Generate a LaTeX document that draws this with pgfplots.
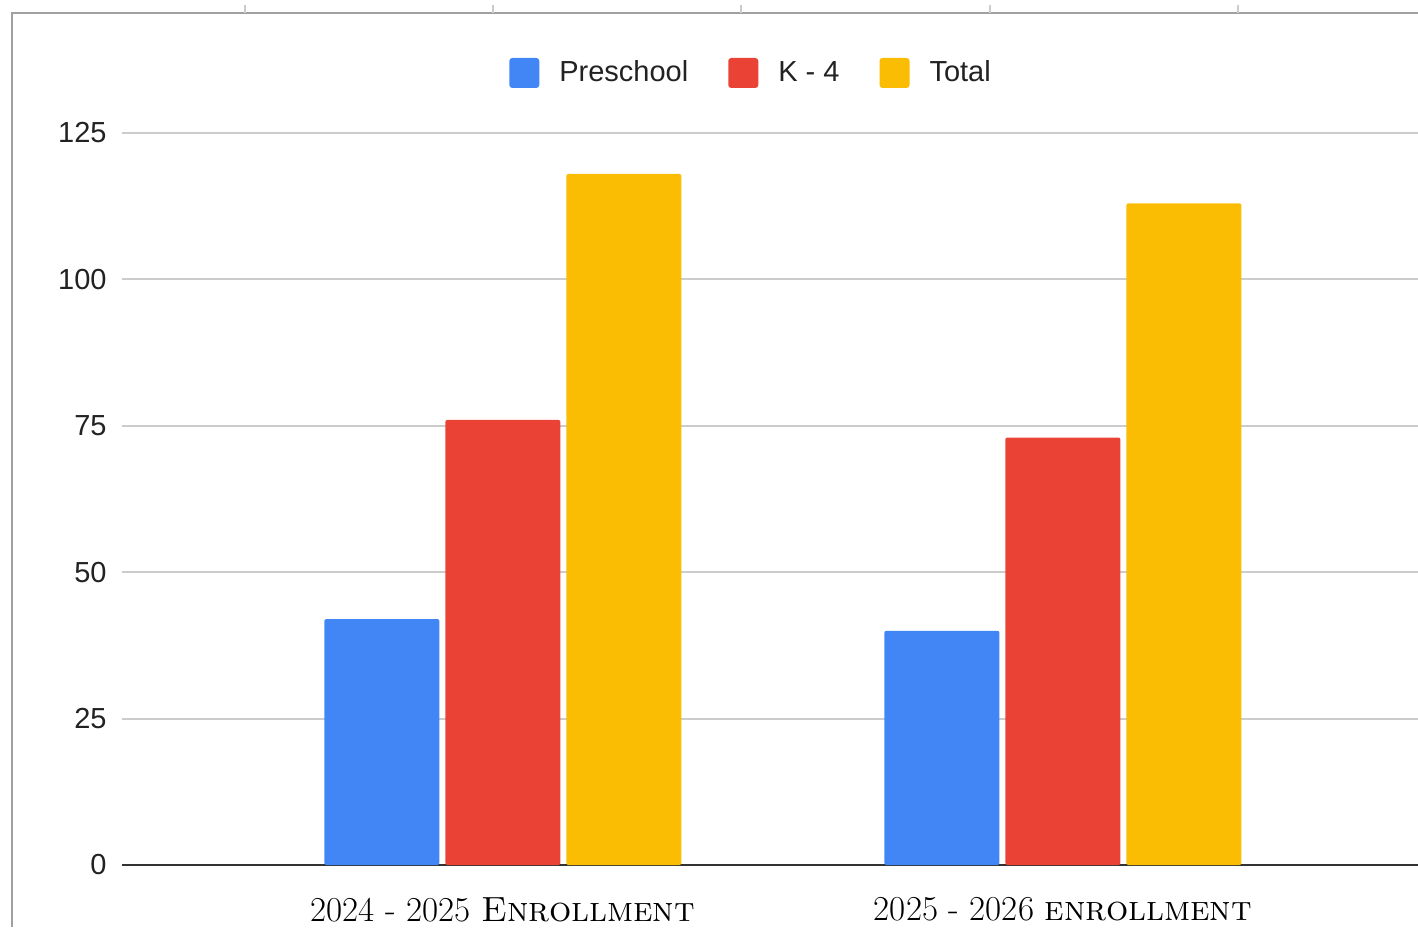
\documentclass[border=0pt]{standalone}
\usepackage{fontspec}
\usepackage{pgfplots}
\pgfplotsset{compat=1.18}
\newfontfamily\arial{Liberation Sans}
\definecolor{gblue}{HTML}{4285F4}
\definecolor{gred}{HTML}{EA4335}
\definecolor{gyellow}{HTML}{FBBC04}
\definecolor{framegray}{HTML}{A0A0A0}
\definecolor{gridgray}{HTML}{CCCCCC}
\definecolor{axisdark}{HTML}{333333}
\definecolor{txt}{HTML}{222222}
\begin{document}
\begin{tikzpicture}
\useasboundingbox (0,0) rectangle (709pt,463.5pt);
\draw[framegray, line width=1.25pt] (6pt,0) -- (6pt,457pt) -- (709pt,457pt);
\foreach \x in {245,493,741,990,1238} \draw[gridgray, line width=0.6pt] (\x*0.5pt,457pt) -- (\x*0.5pt,461pt);
\begin{axis}[
  at={(61pt,31pt)}, anchor=south west, scale only axis,
  width=648pt, height=366pt,
  ymin=0, ymax=125, xmin=-0.680, xmax=1.634,
  enlargelimits=false,
  ybar=3pt, bar width=57.5pt,
  axis x line*=bottom, axis y line*=left,
  x axis line style={draw=axisdark, line width=1.2pt, -},
  y axis line style={draw=none},
  ymajorgrids, grid style={gridgray, line width=1pt},
  major tick length=0pt,
  ytick={0,25,50,75,100,125},
  xtick={0,1},
  xticklabels={{2024 - 2025 \textsc{Enrollment}},{2025 - 2026 \textsc{enrollment}}},
  xticklabel style={anchor=north, inner sep=0pt, yshift=-16pt, font=\fontsize{17.5}{20}\selectfont, text=black},
  yticklabel style={anchor=east, inner sep=0pt, xshift=-7.5pt, font=\arial\fontsize{14.5}{17}\selectfont, text=txt},
  /pgf/number format/assume math mode=true,
  legend columns=3,
  legend style={at={(0.4846,1.082)}, anchor=center, draw=none, fill=none,
    font=\arial\fontsize{14.5}{17}\selectfont, text=txt,
    nodes={inner sep=0pt},
    /tikz/every odd column/.append style={column sep=10pt},
    /tikz/every even column/.append style={column sep=20pt}},
  legend image code/.code={\fill[#1, rounded corners=1.5pt] (0pt,-7.5pt) rectangle (15pt,7.5pt);},
]
\addplot[fill=gblue, draw=none, rounded corners=1pt] coordinates {(0,42) (1,40)};
\addplot[fill=gred, draw=none, rounded corners=1pt] coordinates {(0,76) (1,73)};
\addplot[fill=gyellow, draw=none, rounded corners=1pt] coordinates {(0,118) (1,113)};
\legend{Preschool, K - 4, Total}
\end{axis}
\end{tikzpicture}
\end{document}
